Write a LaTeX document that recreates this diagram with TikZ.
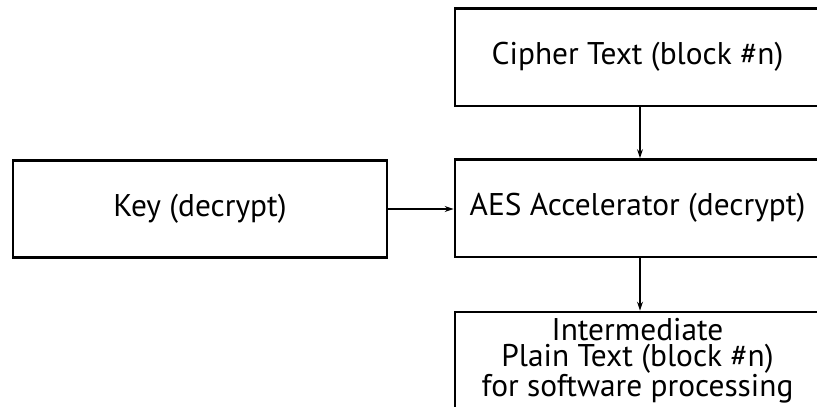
\documentclass[tikz,border=0pt]{standalone}
\usepackage{fontspec}
\setmainfont{PT Sans}
\usetikzlibrary{arrows.meta}
\begin{document}
\begin{tikzpicture}[x=1bp,y=1bp,
  blk/.style={draw=black, line width=2.8bp, minimum height=97.5bp, inner sep=0pt,
    font=\fontsize{31.5}{26}\selectfont, align=center},
  arr/.style={line width=1.3bp, -{Stealth[length=9bp,width=6bp]}}]
\useasboundingbox (0,0) rectangle (817,409);
\clip (0,3) rectangle (817,409);
\node[blk, minimum width=365bp] (cipher) at (637.5,351.75) {Cipher Text (block \#n)};
\node[blk, minimum width=365bp] (aes) at (637.5,200.75) {AES Accelerator (decrypt)};
\node[blk, minimum width=374bp] (key) at (200,200) {Key (decrypt)};
\node[blk, minimum width=365bp] (inter) at (637.5,48.25) {Intermediate\\Plain Text (block \#n)\\for software processing};
\draw[arr] ([xshift=2.5bp]cipher.south) -- ([xshift=2.5bp]aes.north);
\draw[arr] (key.east) -- (key.east -| aes.west);
\draw[arr] ([xshift=2.5bp]aes.south) -- ([xshift=2.5bp]inter.north);
\end{tikzpicture}
\end{document}
